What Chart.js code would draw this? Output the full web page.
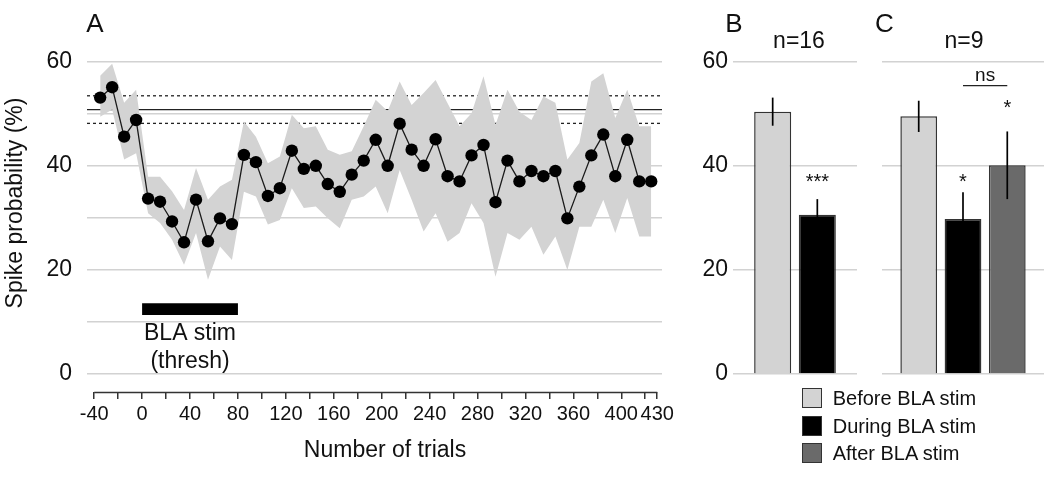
<!DOCTYPE html>
<html><head><meta charset="utf-8">
<script src="https://cdn.jsdelivr.net/npm/chart.js@4"></script>
<style>
html,body{margin:0;padding:0;background:#fff;width:1050px;height:477px;overflow:hidden;}
.layer{position:absolute;left:0;top:0;width:1050px;height:477px;}
.sw{position:absolute;left:801.7px;width:20.6px;height:20px;border:1.5px solid #333;box-sizing:border-box;}
.lt{position:absolute;left:832.7px;height:20px;line-height:20px;font-family:'Liberation Sans',Arial,sans-serif;font-size:20px;color:#111;white-space:nowrap;}
</style></head>
<body>
<div class="layer"><canvas id="cA"></canvas></div>
<div class="layer"><canvas id="cB"></canvas></div>
<div class="layer"><canvas id="cC"></canvas></div>
<div id="legend"></div>
<script>
// ---------------- DATA ----------------
const trials = [-35,-25,-15,-5,5,15,25,35,45,55,65,75,85,95,105,115,125,135,145,155,165,175,185,195,205,215,225,235,245,255,265,275,285,295,305,315,325,335,345,355,365,375,385,395,405,415,425];
const spikeMean = [53.1,55.1,45.6,48.8,33.7,33.1,29.3,25.3,33.5,25.5,29.9,28.8,42.1,40.7,34.2,35.7,42.9,39.4,40.0,36.5,35.0,38.3,41.0,45.0,40.0,48.1,43.1,40.0,45.1,38.0,37.0,42.0,44.0,33.0,41.0,37.0,39.0,38.0,39.0,29.9,36.0,42.0,46.0,38.0,45.0,37.0,37.0];
const spikeUpper = [57.3,59.6,52.1,54.6,37.9,37.9,35.1,31.5,39.6,33.5,36.0,37.3,48.5,45.6,40.5,41.8,49.8,47.2,47.6,43.1,42.1,42.8,47.6,52.7,50.5,56.2,51.7,54.0,56.5,52.0,47.6,50.1,57.2,47.9,54.6,50.4,48.8,53.3,52.1,41.2,44.4,56.2,57.8,49.2,54.6,47.6,47.6];
const spikeLower = [49.4,50.8,41.2,42.4,30.9,29.0,25.8,21.0,27.1,18.1,24.5,21.9,35.0,34.1,28.7,29.6,35.7,31.9,32.2,29.9,28.0,33.5,34.1,36.0,30.9,39.2,33.5,27.4,30.9,25.4,27.1,32.8,29.0,18.7,27.1,25.8,28.3,22.9,26.4,20.0,28.3,28.3,33.5,27.1,33.8,26.4,26.4];
const baselineMean = 50.8;
const baselineSem = 2.65;
const stimStart = 0, stimEnd = 80, stimBarLevel = 12.45;
const xTickValues = [-40,-20,0,20,40,60,80,100,120,140,160,180,200,220,240,260,280,300,320,340,360,380,400,420,430];
const xTickLabels = [-40,0,40,80,120,160,200,240,280,320,360,400,430];
const yGridA = [0,10,20,30,40,50,60];
const yTickLabels = [0,20,40,60];

const groups = ['Before BLA stim','During BLA stim','After BLA stim'];
const groupColors = ['#d3d3d3','#000000','#6a6a6a'];
const bMeans = [50.4,30.6];
const bErrs  = [2.7,3.0];
const bSig   = ['','***'];
const bSigY  = [null,38.0];
const cMeans = [49.5,29.8,40.1];
const cErrs  = [3.0,5.1,6.5];
const cSig   = ['','*','*'];
const cSigY  = [null,38.0,52.1];
const nsLevel = 55.4;

// ---------------- COMMON ----------------
const FONT = "'Liberation Sans', Arial, sans-serif";
const TXT = '#111';
const GRID = '#d2d2d2';
Chart.defaults.font.family = FONT;
Chart.defaults.color = TXT;
Chart.defaults.animation = false;

// legend
const leg = document.getElementById('legend');
const rowCenters = [398.3,426,453.3];
groups.forEach((g,i)=>{
  const s = document.createElement('div'); s.className='sw';
  s.style.top = (rowCenters[i]-10)+'px'; s.style.background = groupColors[i];
  leg.appendChild(s);
  const t = document.createElement('div'); t.className='lt';
  t.style.top = (rowCenters[i]-10)+'px'; t.textContent = g;
  leg.appendChild(t);
});

function flatLine(val, x0, x1){ return [{x:x0,y:val},{x:x1,y:val}]; }

// ---------------- PANEL A ----------------
const X_MIN = -46, X_MAX = 434;
const annotA = {
  id:'annotA',
  afterDraw(chart){
    const {ctx, chartArea:ca, scales:{x,y}} = chart;
    ctx.save();
    ctx.strokeStyle = '#333'; ctx.lineWidth = 1.5;
    ctx.beginPath(); ctx.moveTo(x.getPixelForValue(-40), ca.bottom+0.5); ctx.lineTo(x.getPixelForValue(430), ca.bottom+0.5); ctx.stroke();
    ctx.fillStyle = TXT;
    const by = y.getPixelForValue(stimBarLevel);
    const cx = x.getPixelForValue((stimStart+stimEnd)/2);
    ctx.font = '23px '+FONT; ctx.textAlign='center'; ctx.textBaseline='alphabetic';
    ctx.fillText('BLA stim', cx, by+31);
    ctx.fillText('(thresh)', cx, by+59);
    ctx.font = '26px '+FONT;
    ctx.fillText('A', 95, 32);
    ctx.font = '23px '+FONT;
    ctx.fillText('Number of trials', 385, 457);
    ctx.translate(22, 203); ctx.rotate(-Math.PI/2);
    ctx.fillText('Spike probability (%)', 0, 0);
    ctx.restore();
  }
};
new Chart(document.getElementById('cA'), {
  type:'line',
  data:{datasets:[
    {label:'mean', data: trials.map((t,i)=>({x:t,y:spikeMean[i]})), order:0,
     borderColor:'#1a1a1a', borderWidth:1.3, pointRadius:6.2, pointBackgroundColor:'#000', pointBorderWidth:0, pointHoverRadius:6.2, tension:0, fill:false, clip:false},
    {label:'stim', data: flatLine(stimBarLevel, stimStart, stimEnd), order:0,
     borderColor:'#000', borderWidth:11.7, borderCapStyle:'butt', pointRadius:0, fill:false, clip:false},
    {label:'lower', data: trials.map((t,i)=>({x:t,y:spikeLower[i]})), order:1,
     borderColor:'rgba(0,0,0,0)', borderWidth:0, pointRadius:0, fill:false, tension:0},
    {label:'upper', data: trials.map((t,i)=>({x:t,y:spikeUpper[i]})), order:1,
     borderColor:'rgba(0,0,0,0)', borderWidth:0, pointRadius:0, fill:'-1', backgroundColor:'#d3d3d3', tension:0},
    {label:'base', data: flatLine(baselineMean, X_MIN, X_MAX), order:2,
     borderColor:'#222', borderWidth:1.3, pointRadius:0, fill:false},
    {label:'baseHi', data: flatLine(baselineMean+baselineSem, X_MIN, X_MAX), order:2,
     borderColor:'#222', borderWidth:1.3, borderDash:[3,3], pointRadius:0, fill:false},
    {label:'baseLo', data: flatLine(baselineMean-baselineSem, X_MIN, X_MAX), order:2,
     borderColor:'#222', borderWidth:1.3, borderDash:[3,3], pointRadius:0, fill:false}
  ]},
  options:{
    responsive:true, maintainAspectRatio:false, animation:false,
    layout:{padding:{left:0,top:61.7,right:388,bottom:0}},
    plugins:{legend:{display:false}, tooltip:{enabled:false}},
    scales:{
      x:{type:'linear', min:X_MIN, max:X_MAX,
        afterBuildTicks:s=>{ s.ticks = xTickValues.map(v=>({value:v})); },
        ticks:{autoSkip:false, maxRotation:0, minRotation:0, padding:3, color:TXT, font:{size:20},
               callback:v=> xTickLabels.includes(v) ? String(v) : ''},
        grid:{drawOnChartArea:false, drawTicks:true, tickLength:7, color:'#333', lineWidth:1.5},
        border:{display:false},
        afterFit:s=>{ s.height = 85; }
      },
      y:{min:-3.46, max:60,
        afterBuildTicks:s=>{ s.ticks = yGridA.map(v=>({value:v})); },
        ticks:{padding:15, color:TXT, font:{size:23}, callback:v=> yTickLabels.includes(v) ? String(v) : ''},
        grid:{color:GRID, lineWidth:1.5, drawTicks:false},
        border:{display:false},
        afterFit:s=>{ s.width = 87; }
      }
    }
  },
  plugins:[annotA]
});

// ---------------- PANELS B & C ----------------
function barPanel(canvasId, means, errs, sig, sigY, opts){
  const annot = {
    id:'annot'+canvasId,
    afterDatasetsDraw(chart){
      const {ctx, scales:{y}} = chart;
      ctx.save();
      ctx.strokeStyle = '#000'; ctx.lineWidth = 1.7;
      const xs = [];
      means.forEach((m,i)=>{
        const bar = chart.getDatasetMeta(i).data[0];
        xs.push(bar.x);
        ctx.beginPath();
        ctx.moveTo(bar.x, y.getPixelForValue(m+errs[i]));
        ctx.lineTo(bar.x, y.getPixelForValue(m-errs[i]));
        ctx.stroke();
      });
      ctx.fillStyle = TXT; ctx.textAlign='center'; ctx.textBaseline='alphabetic';
      ctx.font = '20px '+FONT;
      sig.forEach((s,i)=>{ if(s) ctx.fillText(s, xs[i], y.getPixelForValue(sigY[i])+11.5); });
      if (opts.ns){
        const yl = y.getPixelForValue(nsLevel);
        ctx.strokeStyle = '#222'; ctx.lineWidth = 1.3;
        ctx.beginPath(); ctx.moveTo(xs[1], yl); ctx.lineTo(xs[2], yl); ctx.stroke();
        ctx.font = '19px '+FONT;
        ctx.fillText('ns', (xs[1]+xs[2])/2, yl-4.5);
      }
      const ca = chart.chartArea;
      ctx.font = '23px '+FONT;
      ctx.fillText(opts.n, (ca.left+ca.right)/2 + opts.nShift, 48.3);
      ctx.font = '26px '+FONT;
      ctx.fillText(opts.letter, opts.letterX, 32);
      ctx.restore();
    }
  };
  return new Chart(document.getElementById(canvasId), {
    type:'bar',
    data:{labels:[''], datasets: means.map((m,i)=>({
      label: groups[i], data:[m], backgroundColor: groupColors[i], borderColor:'#333', borderWidth:1.5,
      categoryPercentage: opts.catPct, barPercentage: 0.83
    }))},
    options:{
      responsive:true, maintainAspectRatio:false, animation:false,
      layout:{padding:{left:0, top:61.7, right:opts.right, bottom:103}},
      plugins:{legend:{display:false}, tooltip:{enabled:false}},
      scales:{
        x:{display:false},
        y:{min:0, max:60,
          ticks:{stepSize:20, display:opts.showTicks, padding:5, color:TXT, font:{size:23}},
          grid:{color:GRID, lineWidth:1.5, drawTicks:false},
          border:{display:false},
          afterFit:s=>{ s.width = opts.left; }
        }
      }
    },
    plugins:[annot]
  });
}
barPanel('cB', bMeans, bErrs, bSig, bSigY, {left:733, right:193, catPct:0.72, showTicks:true, n:'n=16', nShift:4, letter:'B', letterX:734});
barPanel('cC', cMeans, cErrs, cSig, cSigY, {left:882, right:6, catPct:0.82, showTicks:false, n:'n=9', nShift:1, letter:'C', letterX:884.5, ns:true});
</script>
</body></html>
